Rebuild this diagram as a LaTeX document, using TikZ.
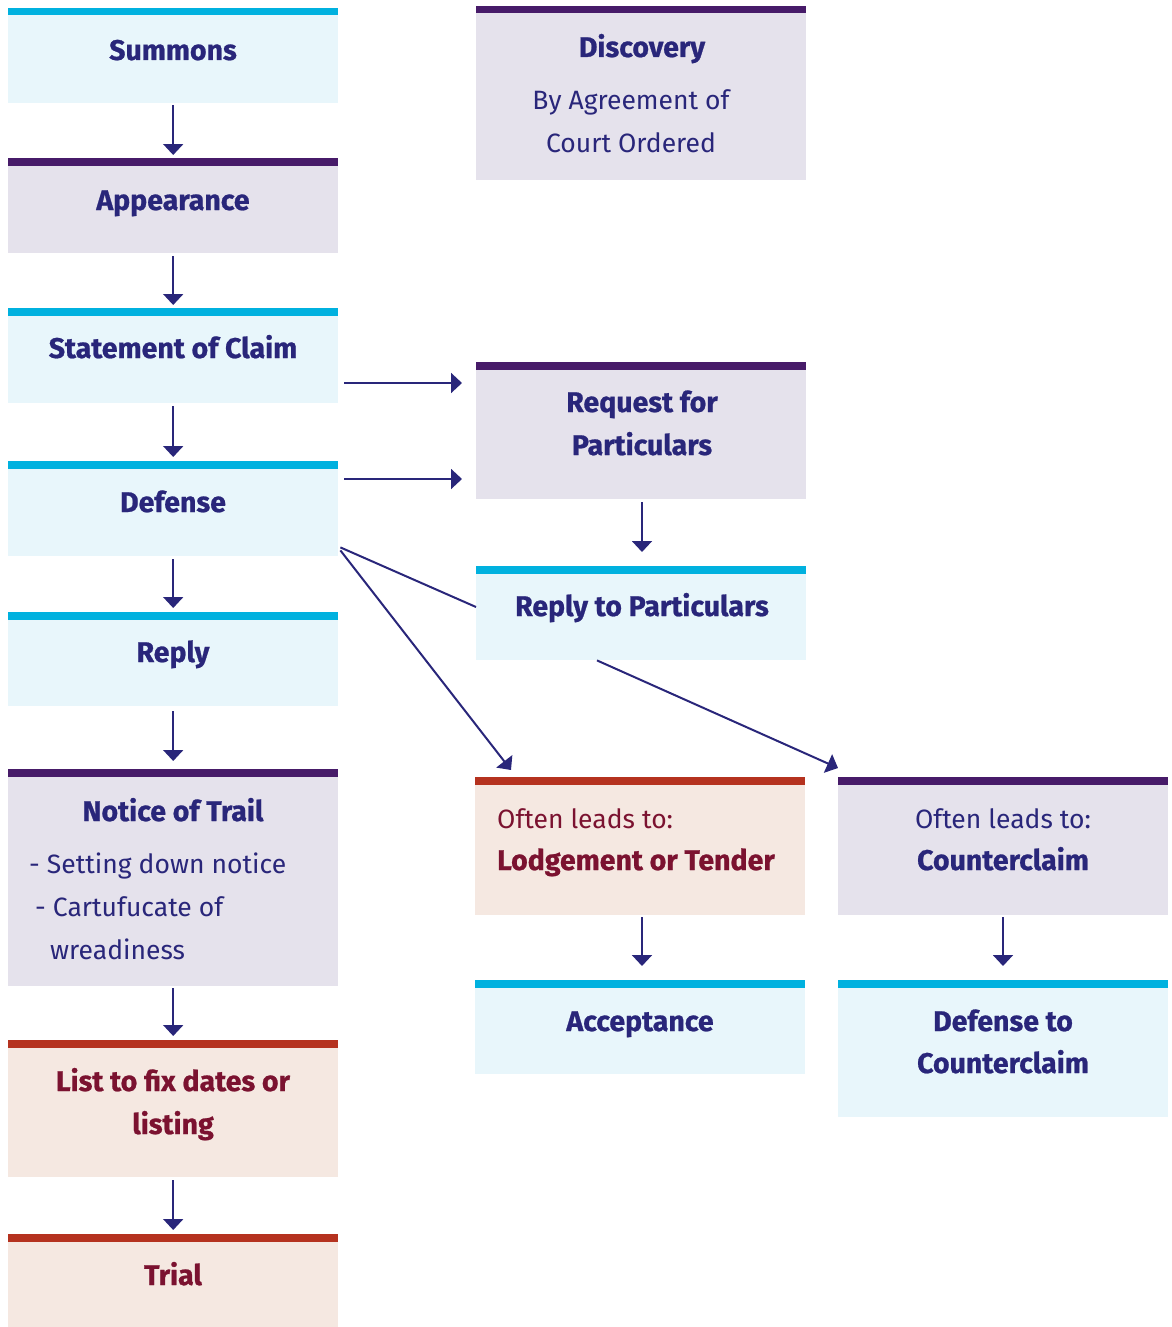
\documentclass[tikz,border=0pt]{standalone}
\usepackage{fontspec}
\setmainfont{Fira Sans}[BoldFeatures={FakeBold=0.8}]
\usetikzlibrary{arrows.meta}
\definecolor{cbar}{HTML}{00B1DF}
\definecolor{cfill}{HTML}{E8F6FB}
\definecolor{pbar}{HTML}{471B69}
\definecolor{pfill}{HTML}{E5E2EC}
\definecolor{rbar}{HTML}{B5321F}
\definecolor{rfill}{HTML}{F5E8E1}
\definecolor{navy}{HTML}{29267A}
\definecolor{wine}{HTML}{7B1230}
\tikzset{
  box/.style={anchor=north west, inner sep=0pt, minimum width=330pt},
  cbox/.style={box, fill=cfill},
  pbox/.style={box, fill=pfill},
  rbox/.style={box, fill=rfill},
  ttl/.style={anchor=base, inner sep=0pt, font=\fontsize{28.5}{32}\selectfont\bfseries, text=navy},
  rttl/.style={ttl, text=wine},
  sub/.style={anchor=base, inner sep=0pt, font=\fontsize{26.5}{30}\selectfont, text=navy},
  arr/.style={draw=navy, line width=2pt, -{Triangle[width=20pt,length=11pt]}},
  ln/.style={draw=navy, line width=2pt},
}
\newcommand\topbar[2]{\fill[#2] (#1.north west) rectangle ([yshift=-7.5pt]#1.north east);}
\begin{document}
\begin{tikzpicture}[x=1pt,y=-1pt]
\useasboundingbox (0,0) rectangle (1171,1327);
% left column
\node[cbox, minimum height=95pt] (summons) at (8,8) {};
\node[pbox, minimum height=95pt] (appear) at (8,158) {};
\node[cbox, minimum height=95pt] (claim) at (8,308) {};
\node[cbox, minimum height=95pt] (defense) at (8,461) {};
\node[cbox, minimum height=94pt] (reply) at (8,612) {};
\node[pbox, minimum height=217pt] (notice) at (8,769) {};
\node[rbox, minimum height=137pt] (list) at (8,1040) {};
\node[rbox, minimum height=93pt] (trial) at (8,1234) {};
% middle column
\node[pbox, minimum height=174pt] (disc) at (476,6) {};
\node[pbox, minimum height=137pt] (req) at (476,362) {};
\node[cbox, minimum height=94pt] (rpart) at (476,566) {};
\node[rbox, minimum height=138pt] (lodge) at (475,777) {};
\node[cbox, minimum height=94pt] (accept) at (475,980) {};
% right column
\node[pbox, minimum height=138pt] (counter) at (838,777) {};
\node[cbox, minimum height=137pt] (dcounter) at (838,980) {};
% bars
\topbar{summons}{cbar}
\topbar{appear}{pbar}
\topbar{claim}{cbar}
\topbar{defense}{cbar}
\topbar{reply}{cbar}
\topbar{notice}{pbar}
\topbar{list}{rbar}
\topbar{trial}{rbar}
\topbar{disc}{pbar}
\topbar{req}{pbar}
\topbar{rpart}{cbar}
\topbar{lodge}{rbar}
\topbar{accept}{cbar}
\topbar{counter}{pbar}
\topbar{dcounter}{cbar}
% texts
\node[ttl] (summons-t) at (173,60) {Summons};
\node[ttl] (appear-t) at (173,210) {Appearance};
\node[ttl] (claim-t) at (173,358) {Statement of Claim};
\node[ttl] (defense-t) at (173,512) {Defense};
\node[ttl] (reply-t) at (173,662) {Reply};
\node[ttl] (notice-t) at (173,821) {Notice of Trail};
\node[sub, anchor=base west] (notice-1) at (29,873) {- Setting down notice};
\node[sub, anchor=base west] (notice-2) at (35,916) {- Cartufucate of};
\node[sub, anchor=base west] (notice-3) at (50,959) {wreadiness};
\node[rttl] (list-t1) at (173,1091) {List to fix dates or};
\node[rttl] (list-t2) at (173,1134) {listing};
\node[rttl] (trial-t) at (173,1285) {Trial};
\node[ttl] (disc-t) at (642,57) {Discovery};
\node[sub] (disc-1) at (631,110) {By Agreement of};
\node[sub] (disc-2) at (631,153) {Court Ordered};
\node[ttl] (req-t1) at (642,412) {Request for};
\node[ttl] (req-t2) at (642,455) {Particulars};
\node[ttl] (rpart-t) at (642,616) {Reply to Particulars};
\node[sub, anchor=base west, text=wine] (lodge-1) at (497,828) {Often leads to:};
\node[rttl, anchor=base west] (lodge-2) at (497,870) {Lodgement or Tender};
\node[ttl] (accept-t) at (640,1031) {Acceptance};
\node[sub] (counter-1) at (1003,828) {Often leads to:};
\node[ttl] (counter-2) at (1003,870) {Counterclaim};
\node[ttl] (dcounter-1) at (1003,1031) {Defense to};
\node[ttl] (dcounter-2) at (1003,1073) {Counterclaim};
% vertical arrows
\draw[arr, shorten <=2pt, shorten >=3pt] (summons.south) -- (appear.north);
\draw[arr, shorten <=3pt, shorten >=3pt] (appear.south) -- (claim.north);
\draw[arr, shorten <=3pt, shorten >=4pt] (claim.south) -- (defense.north);
\draw[arr, shorten <=3pt, shorten >=4pt] (defense.south) -- (reply.north);
\draw[arr, shorten <=5pt, shorten >=8pt] (reply.south) -- (notice.north);
\draw[arr, shorten <=2pt, shorten >=4pt] (notice.south) -- (list.north);
\draw[arr, shorten <=3pt, shorten >=4pt] (list.south) -- (trial.north);
\draw[arr, shorten <=3pt, shorten >=14pt] (req.south -| 642,0) -- (rpart.north -| 642,0);
\draw[arr, shorten <=2pt, shorten >=14pt] (lodge.south -| 642,0) -- (accept.north -| 642,0);
\draw[arr, shorten <=2pt, shorten >=14pt] (counter.south -| 1003,0) -- (dcounter.north -| 1003,0);
% horizontal arrows
\draw[arr, shorten <=6pt, shorten >=14pt] (claim.east |- 0,383) -- (req.west |- 0,383);
\draw[arr, shorten <=6pt, shorten >=14pt] (defense.east |- 0,479) -- (req.west |- 0,479);
% diagonals
\coordinate (d1) at ([shift={(2pt,9pt)}]defense.south east);
\coordinate (d2) at ([shift={(2pt,6pt)}]defense.south east);
\coordinate (ctip) at ([yshift=9pt]counter.north west);
\draw[ln] (d1) -- (rpart.west |- 0,607);
\draw[arr] (d2) -- (511,770);
\draw[arr] (rpart.south -| 597,0) -- (ctip);
\end{tikzpicture}
\end{document}
